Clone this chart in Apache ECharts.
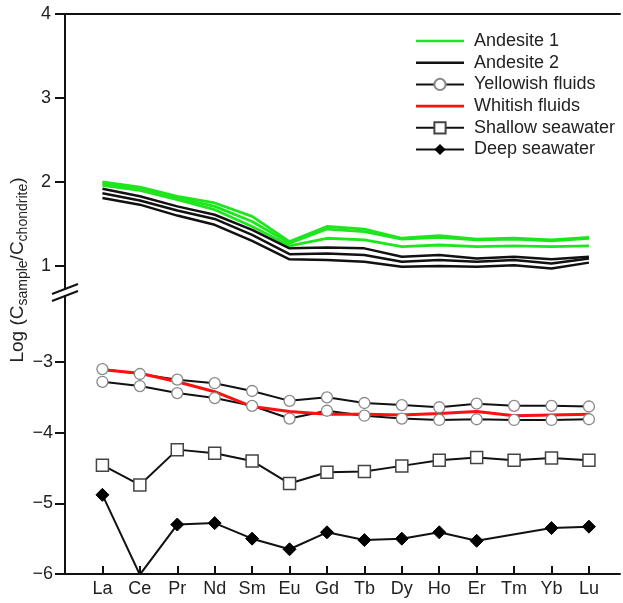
<!DOCTYPE html>
<html>
<head>
<meta charset="utf-8">
<script src="https://cdn.jsdelivr.net/npm/echarts@6/dist/echarts.min.js"></script>
<style>
  html, body { margin: 0; background: #fff; }
  #chart { width: 623px; height: 603px; }
</style>
</head>
<body>
<div id="chart"></div>
<script>
const elements = ['La', 'Ce', 'Pr', 'Nd', 'Sm', 'Eu', 'Gd', 'Tb', 'Dy', 'Ho', 'Er', 'Tm', 'Yb', 'Lu'];
const upperTicks = [1, 2, 3, 4];
const lowerTicks = [-6, -5, -4, -3];

// Andesite 1 (green), three samples
const andesite1a = [2.00, 1.94, 1.83, 1.75, 1.59, 1.29, 1.47, 1.44, 1.33, 1.36, 1.32, 1.33, 1.31, 1.34];
const andesite1b = [1.98, 1.91, 1.81, 1.71, 1.53, 1.27, 1.44, 1.41, 1.32, 1.34, 1.31, 1.32, 1.30, 1.33];
const andesite1c = [1.96, 1.90, 1.79, 1.67, 1.47, 1.24, 1.33, 1.31, 1.23, 1.25, 1.23, 1.24, 1.23, 1.24];
// Andesite 2 (black), three samples
const andesite2a = [1.92, 1.83, 1.71, 1.61, 1.43, 1.21, 1.22, 1.21, 1.11, 1.13, 1.09, 1.11, 1.08, 1.11];
const andesite2b = [1.865, 1.78, 1.66, 1.56, 1.37, 1.14, 1.15, 1.13, 1.05, 1.07, 1.05, 1.07, 1.03, 1.09];
const andesite2c = [1.81, 1.73, 1.60, 1.49, 1.30, 1.08, 1.07, 1.05, 0.99, 1.00, 0.99, 1.01, 0.97, 1.04];

// fluids and seawater
const yellowishA = [-3.10, -3.17, -3.25, -3.30, -3.41, -3.55, -3.50, -3.58, -3.61, -3.64, -3.59, -3.62, -3.62, -3.63];
const yellowishB = [-3.28, -3.34, -3.44, -3.51, -3.62, -3.80, -3.69, -3.76, -3.80, -3.82, -3.81, -3.82, -3.82, -3.81];
const whitish = [-3.11, -3.16, -3.28, -3.42, -3.63, -3.70, -3.74, -3.74, -3.75, -3.73, -3.70, -3.76, -3.75, -3.74];
const shallowSea = [-4.46, -4.74, -4.24, -4.29, -4.40, -4.72, -4.56, -4.55, -4.47, -4.39, -4.35, -4.39, -4.36, -4.39];
const deepSea = [-4.88, -6.01, -5.30, -5.28, -5.50, -5.65, -5.41, -5.52, -5.50, -5.41, -5.53, null, -5.35, -5.33];

const pairs = arr => arr.map((v, i) => [i, v]);
const font = 'Liberation Sans, Arial, sans-serif';
const green = '#1ee61e';

const chart = echarts.init(document.getElementById('chart'));

function plainLine(name, data, color, width, grid) {
  return {
    name, type: 'line', data: pairs(data),
    xAxisIndex: grid, yAxisIndex: grid,
    symbol: 'none', color,
    lineStyle: { color, width },
    emphasis: { disabled: true }
  };
}
function markLine(name, data, symbol, size, itemStyle, width) {
  return {
    name, type: 'line', data: pairs(data),
    xAxisIndex: 1, yAxisIndex: 1,
    symbol, symbolSize: size, connectNulls: true,
    lineStyle: { color: '#111', width },
    itemStyle,
    emphasis: { disabled: true }
  };
}

const axisLine = { show: true, onZero: false, lineStyle: { color: '#111', width: 2 } };
const xBase = {
  type: 'value', min: -1, max: 13.83, interval: 1,
  splitLine: { show: false }
};
const lineIcon = 'path://M0,0H48V2.6H0Z';

chart.setOption({
  animation: false,
  textStyle: { fontFamily: font },
  grid: [
    { left: 65, right: 3, top: 14, height: 275 },
    { left: 65, right: 3, top: 296, height: 278 }
  ],
  xAxis: [
    Object.assign({}, xBase, {
      gridIndex: 0, position: 'top', axisLine,
      axisTick: { show: false }, axisLabel: { show: false }
    }),
    Object.assign({}, xBase, {
      gridIndex: 1, position: 'bottom', axisLine,
      axisTick: { show: true, inside: true, length: 8, lineStyle: { color: '#111', width: 2 },
        customValues: elements.map((e, i) => i) },
      axisLabel: { show: true, fontSize: 18, color: '#222', margin: 6, fontFamily: font,
        customValues: elements.map((e, i) => i),
        formatter: v => elements[v] || '' }
    })
  ],
  yAxis: [
    {
      type: 'value', gridIndex: 0, min: 0.726, max: 4,
      splitLine: { show: false }, axisLine,
      axisTick: { show: true, length: 10, lineStyle: { color: '#111', width: 2 }, customValues: upperTicks },
      axisLabel: { fontSize: 18, color: '#222', margin: 14, fontFamily: font, customValues: upperTicks }
    },
    {
      type: 'value', gridIndex: 1, min: -6, max: -2.066,
      splitLine: { show: false }, axisLine,
      axisTick: { show: true, length: 10, lineStyle: { color: '#111', width: 2 }, customValues: lowerTicks },
      axisLabel: { fontSize: 18, color: '#222', margin: 12, fontFamily: font, customValues: lowerTicks,
        formatter: v => String(v).replace('-', '\u2212') }
    }
  ],
  legend: {
    orient: 'vertical', left: 410, top: 27,
    itemWidth: 48, itemHeight: 14, itemGap: 3.7,
    textStyle: { fontSize: 18, color: '#222', fontFamily: font, lineHeight: 18, padding: [0, 0, 0, 5] },
    data: [
      { name: 'Andesite 1', icon: lineIcon },
      { name: 'Andesite 2', icon: lineIcon },
      'Yellowish fluids',
      { name: 'Whitish fluids', icon: lineIcon },
      'Shallow seawater',
      'Deep seawater'
    ]
  },
  graphic: [
    { type: 'line', shape: { x1: 52, y1: 294, x2: 78, y2: 284 }, style: { stroke: '#111', lineWidth: 2 } },
    { type: 'line', shape: { x1: 52, y1: 301, x2: 78, y2: 291 }, style: { stroke: '#111', lineWidth: 2 } },
    {
      type: 'text', x: 18, y: 270, rotation: Math.PI / 2,
      style: {
        text: 'Log (C{sub|sample}/C{sub|chondrite})',
        fontSize: 19, fill: '#222', fontFamily: font,
        align: 'center', verticalAlign: 'middle',
        rich: { sub: { fontSize: 14, fill: '#222', fontFamily: font, verticalAlign: 'bottom', padding: [10, 0, 0, 0] } }
      }
    }
  ],
  series: [
    plainLine('Andesite 1', andesite1a, green, 2.8, 0),
    plainLine('Andesite 1', andesite1b, green, 2.8, 0),
    plainLine('Andesite 1', andesite1c, green, 2.8, 0),
    plainLine('Andesite 2', andesite2a, '#111111', 2.5, 0),
    plainLine('Andesite 2', andesite2b, '#111111', 2.5, 0),
    plainLine('Andesite 2', andesite2c, '#111111', 2.5, 0),
    markLine('Yellowish fluids', yellowishA, 'circle', 11, { color: '#fff', borderColor: '#888', borderWidth: 1.3 }, 2),
    markLine('Yellowish fluids', yellowishB, 'circle', 11, { color: '#fff', borderColor: '#888', borderWidth: 1.3 }, 2),
    plainLine('Whitish fluids', whitish, '#ff1010', 3, 1),
    markLine('Shallow seawater', shallowSea, 'rect', 12, { color: '#fff', borderColor: '#444', borderWidth: 1.5 }, 2),
    markLine('Deep seawater', deepSea, 'diamond', 13, { color: '#000', borderColor: '#000' }, 2)
  ]
});
</script>
</body>
</html>
